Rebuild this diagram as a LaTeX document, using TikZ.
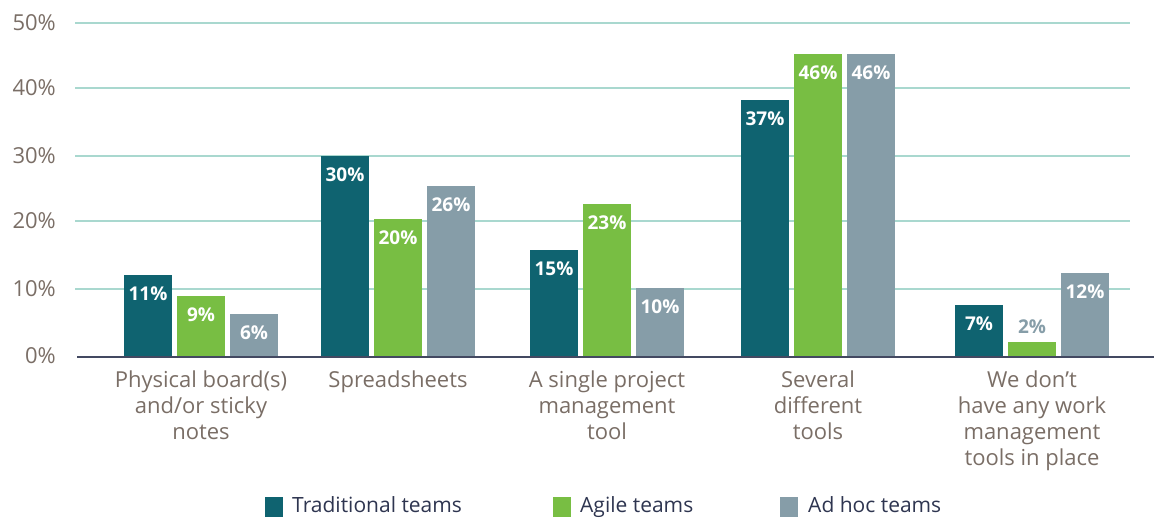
\documentclass[tikz,border=0pt]{standalone}
\usepackage{fontspec}
\setmainfont{Open Sans}
\usetikzlibrary{positioning}

\definecolor{tradcol}{HTML}{0F6370}
\definecolor{agilecol}{HTML}{78BE43}
\definecolor{adhoccol}{HTML}{869DA8}
\definecolor{gridcol}{HTML}{A9D8CF}
\definecolor{axistext}{HTML}{7A6E66}
\definecolor{legtext}{HTML}{2E3550}

\begin{document}
\begin{tikzpicture}[x=1pt, y=-1pt,
	gridline/.style={gridcol, line width=1.2pt},
	axisline/.style={legtext!90, line width=2pt},
	tick/.style={anchor=east, text=axistext, font=\fontsize{22}{22}\selectfont, inner sep=0pt},
	cat/.style={align=center, text=axistext, font=\fontsize{22}{26}\selectfont, anchor=north, inner sep=0pt},
	val/.style={text=white, font=\bfseries\fontsize{19}{19}\selectfont, inner sep=0pt},
	legbox/.style={minimum width=18pt, minimum height=20pt, inner sep=0pt, anchor=north west},
	leglabel/.style={text=legtext, font=\fontsize{21}{21}\selectfont, anchor=base west, inner sep=0pt}]
	\useasboundingbox (0,0) rectangle (1154,518);

	% grid and y ticks
	\foreach \v/\y in {50/23, 40/88, 30/156, 20/221, 10/289} {
		\draw[gridline] (75,\y) -- (1130,\y);
		\node[tick] (t\v) at (56,\y) {\v\%};
	}
	\node[tick] (t0) at (56,356) {0\%};

	% bars: group centre, tops of the three bars
	\foreach \g/\c/\ta/\tb/\tc/\la/\lb/\lc in {
		1/201/275/296/314/11/9/6,
		2/398/156/219/186/30/20/26,
		3/607/250/204/288/15/23/10,
		4/818/100/54/54/37/46/46} {
		\fill[tradcol] (\c-77,\ta) rectangle (\c-29,357);
		\fill[agilecol] (\c-24,\tb) rectangle (\c+24,357);
		\fill[adhoccol] (\c+29,\tc) rectangle (\c+77,357);
		\node[val] (va\g) at (\c-53,\ta+19) {\la\%};
		\node[val] (vb\g) at (\c,\tb+19) {\lb\%};
		\node[val] (vc\g) at (\c+53,\tc+19) {\lc\%};
	}
	\fill[tradcol] (955,305) rectangle (1003,357);
	\fill[agilecol] (1008,342) rectangle (1056,357);
	\fill[adhoccol] (1061,273) rectangle (1109,357);
	\node[val] (va5) at (979,324) {7\%};
	\node[val, text=adhoccol] (vb5) at (1032,327) {2\%};
	\node[val] (vc5) at (1085,292) {12\%};

	\draw[axisline] (77,357) -- (1154,357);

	% categories
	\node[cat] (c1) at (201,371) {Physical board(s)\\and/or sticky\\notes};
	\node[cat] (c2) at (398,371) {Spreadsheets};
	\node[cat] (c3) at (607,371) {A single project\\management\\tool};
	\node[cat] (c4) at (818,371) {Several\\different\\tools};
	\node[cat] (c5) at (1032,371) {We don’t\\have any work\\management\\tools in place};

	% legend
	\node[legbox, fill=tradcol] (l1) at (265,497) {};
	\node[leglabel] (l1t) at (292,512) {Traditional teams};
	\node[legbox, fill=agilecol] (l2) at (553,497) {};
	\node[leglabel] (l2t) at (580,512) {Agile teams};
	\node[legbox, fill=adhoccol] (l3) at (780,497) {};
	\node[leglabel] (l3t) at (808,512) {Ad hoc teams};
\end{tikzpicture}
\end{document}
